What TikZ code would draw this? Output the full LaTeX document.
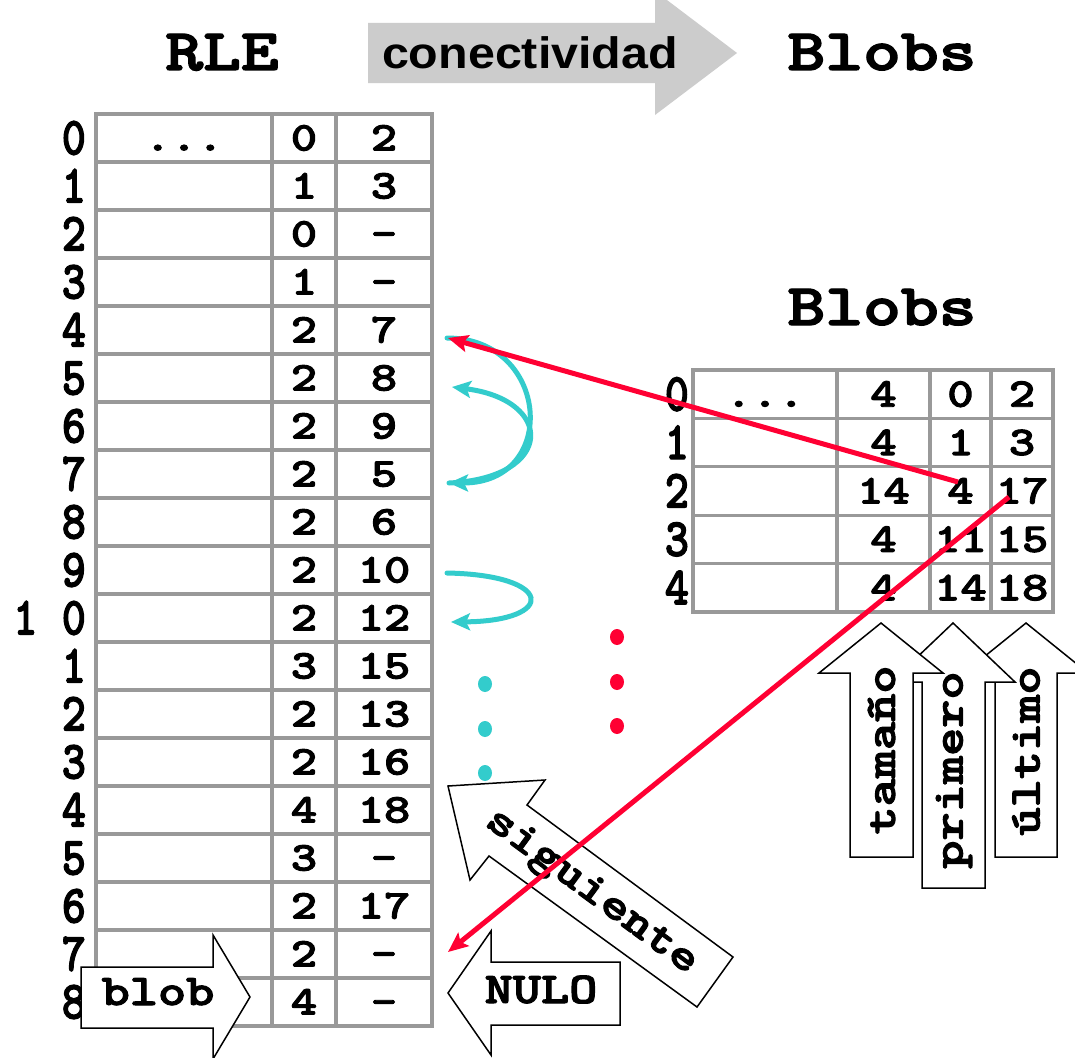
\documentclass[tikz,border=0pt]{standalone}
\usepackage{fontspec}
\usepackage{graphicx}
\newfontfamily\sansfam{Liberation Sans}
\newfontfamily\typebold{lmmonolt10-bold.otf}[FakeBold=2.2]
\usetikzlibrary{arrows.meta}

\definecolor{gridgray}{RGB}{153,153,153}
\definecolor{arrowgray}{RGB}{204,204,204}
\definecolor{linkred}{RGB}{255,0,51}
\definecolor{linkcyan}{RGB}{51,204,204}

% heavy typewriter text, horizontally / vertically scaled
\newcommand\monotext[4]{\scalebox{#2}[#3]{\fontsize{#1}{#1}\selectfont\typebold #4}}
\newcommand\celltxt[1]{\monotext{41pt}{1.22}{1}{#1}}
\newcommand\rowtxt[1]{\monotext{54pt}{0.855}{1}{#1}}
\newcommand\titletxt[1]{\monotext{59pt}{1.22}{1}{#1}}
\newcommand\tagtxt[1]{\monotext{44pt}{1.22}{1}{#1}}

\begin{document}
\begin{tikzpicture}[x=1pt,y=-1pt,
  txt/.style={inner sep=0pt,outer sep=0pt},
  grid/.style={draw=gridgray,line width=3.3pt},
  tagarrow/.style={fill=white,draw=black,line width=1.5pt,line join=miter},
  redlink/.style={draw=linkred,line width=5pt,-{Stealth[length=20pt,width=17pt,inset=4pt]}},
  cyanlink/.style={draw=linkcyan,line width=5pt,line cap=round,-{Stealth[length=19pt,width=17pt,inset=4pt]}},
  cyandot/.style={fill=linkcyan},
  reddot/.style={fill=linkred}]

\useasboundingbox (0,0) rectangle (1075,1057);
\fill[white] (0,0) rectangle (1075,1057);
\clip (0,0) rectangle (1075,1057);

% ---- heading: RLE --conectividad--> Blobs
\fill[arrowgray] (368,23) -- (655,23) -- (655,-9) -- (737,53) -- (655,115) -- (655,83) -- (368,83) -- cycle;
\node[txt,anchor=base] (conn) at (530,68) {\scalebox{1.1}[1]{\fontsize{44pt}{44pt}\selectfont\sansfam\bfseries conectividad}};
\node[txt,anchor=base] (tRLE) at (222,70) {\titletxt{RLE}};
\node[txt,anchor=base] (tBlobsTop) at (882,70) {\titletxt{Blobs}};

% ---- RLE table
\draw[grid] (96,114) rectangle (432,1026);
\foreach \i in {1,...,18} \draw[grid] (96,114+48*\i) -- (432,114+48*\i);
\draw[grid] (272,114) -- (272,1026);
\draw[grid] (336,114) -- (336,1026);

\foreach \i/\lbl in {0/0,1/1,2/2,3/3,4/4,5/5,6/6,7/7,8/8,9/9,10/{1 0},11/1,12/2,13/3,14/4,15/5,16/6,17/7,18/8}
  \node[txt,anchor=base east] (Lrow\i) at (86,154.5+48*\i) {\rowtxt{\lbl}};

\node[txt,anchor=base] (Ldots) at (184,150.5) {\celltxt{...}};
\foreach \i/\a/\b in {0/0/2,1/1/3,2/0/-,3/1/-,4/2/7,5/2/8,6/2/9,7/2/5,8/2/6,9/2/10,10/2/12,11/3/15,12/2/13,13/2/16,14/4/18,15/3/-,16/2/17,17/2/-,18/4/-}{
  \node[txt,anchor=base] (La\i) at (304,150.5+48*\i) {\celltxt{\a}};
  \node[txt,anchor=base] (Lb\i) at (384,150.5+48*\i) {\celltxt{\b}};
}

% ---- Blobs table
\node[txt,anchor=base] (tBlobs) at (882,325) {\titletxt{Blobs}};
\draw[grid] (693,370) rectangle (1053,612);
\foreach \i in {1,...,4} \draw[grid] (693,370+48.4*\i) -- (1053,370+48.4*\i);
\foreach \x in {837,930,991} \draw[grid] (\x,370) -- (\x,612);

\foreach \i in {0,...,4}
  \node[txt,anchor=base east] (Rrow\i) at (689,410.7+48.4*\i) {\rowtxt{\i}};
\node[txt,anchor=base] (Rdots) at (765,406.7) {\celltxt{...}};
\foreach \i/\s/\f/\l in {0/4/0/2,1/4/1/3,2/14/4/17,3/4/11/15,4/4/14/18}{
  \node[txt,anchor=base] (Rs\i) at (883.5,406.7+48.4*\i) {\celltxt{\s}};
  \node[txt,anchor=base] (Rf\i) at (960.5,406.7+48.4*\i) {\celltxt{\f}};
  \node[txt,anchor=base] (Rl\i) at (1022,406.7+48.4*\i) {\celltxt{\l}};
}

% ---- "siguiente" links between runs
\coordinate (s4) at (447,338);
\coordinate (s5) at (452,387);
\coordinate (s7) at (449,483);
\coordinate (s9) at (447,573);
\coordinate (s10) at (451,622);
\draw[cyanlink] (s4) .. controls (550,338) and (560,483) .. (s7);
\draw[cyanlink] (s7) .. controls (555,478) and (555,400) .. (s5);
\draw[cyanlink] (s9) .. controls (555,575) and (557,621) .. (s10);

\foreach \y in {684,729,773} \fill[cyandot] (485,\y) ellipse [x radius=7,y radius=8];
\foreach \y in {637,682,726} \fill[reddot] (617,\y) ellipse [x radius=7,y radius=8];

% ---- block-arrow labels
\draw[tagarrow] (81,967) -- (213,967) -- (213,935) -- (250,997) -- (213,1059) -- (213,1028) -- (81,1028) -- cycle;
\node[txt,anchor=base] (lblob) at (158,1005) {\tagtxt{blob}};

\draw[tagarrow] (620,962) -- (491,962) -- (491,931) -- (448,993) -- (491,1055) -- (491,1025) -- (620,1025) -- cycle;
\node[txt,anchor=base] (lnulo) at (541,1003) {\tagtxt{NULO}};

\draw[tagarrow] (448,786) -- (545,780) -- (527,805) -- (733,957) -- (697,1007) -- (489,856) -- (470,880) -- cycle;
\node[txt,rotate=-36.3] (lsig) at (591,893) {\tagtxt{siguiente}};

\draw[tagarrow] (995,857) -- (995,673) -- (964,673) -- (1026,623) -- (1088,673) -- (1057,673) -- (1057,857) -- cycle;
\draw[tagarrow] (922,888) -- (922,682) -- (891,682) -- (953,623) -- (1015,682) -- (985,682) -- (985,888) -- cycle;
\draw[tagarrow] (850,857) -- (850,673) -- (819,673) -- (881,623) -- (943,673) -- (913,673) -- (913,857) -- cycle;
\node[txt,rotate=90] (ltam) at (881.5,750) {\tagtxt{tamaño}};
\node[txt,rotate=90] (lpri) at (954,770) {\tagtxt{primero}};
\node[txt,rotate=90] (lult) at (1026,751) {\tagtxt{último}};

% ---- first / last run of blob 2
\coordinate (b2first) at (958,482);
\coordinate (b2last) at (1009,497);
\coordinate (run4) at (448,338);
\coordinate (run17) at (448,952);
\draw[redlink] (b2first) -- (run4);
\draw[redlink] (b2last) -- (run17);

\end{tikzpicture}
\end{document}
